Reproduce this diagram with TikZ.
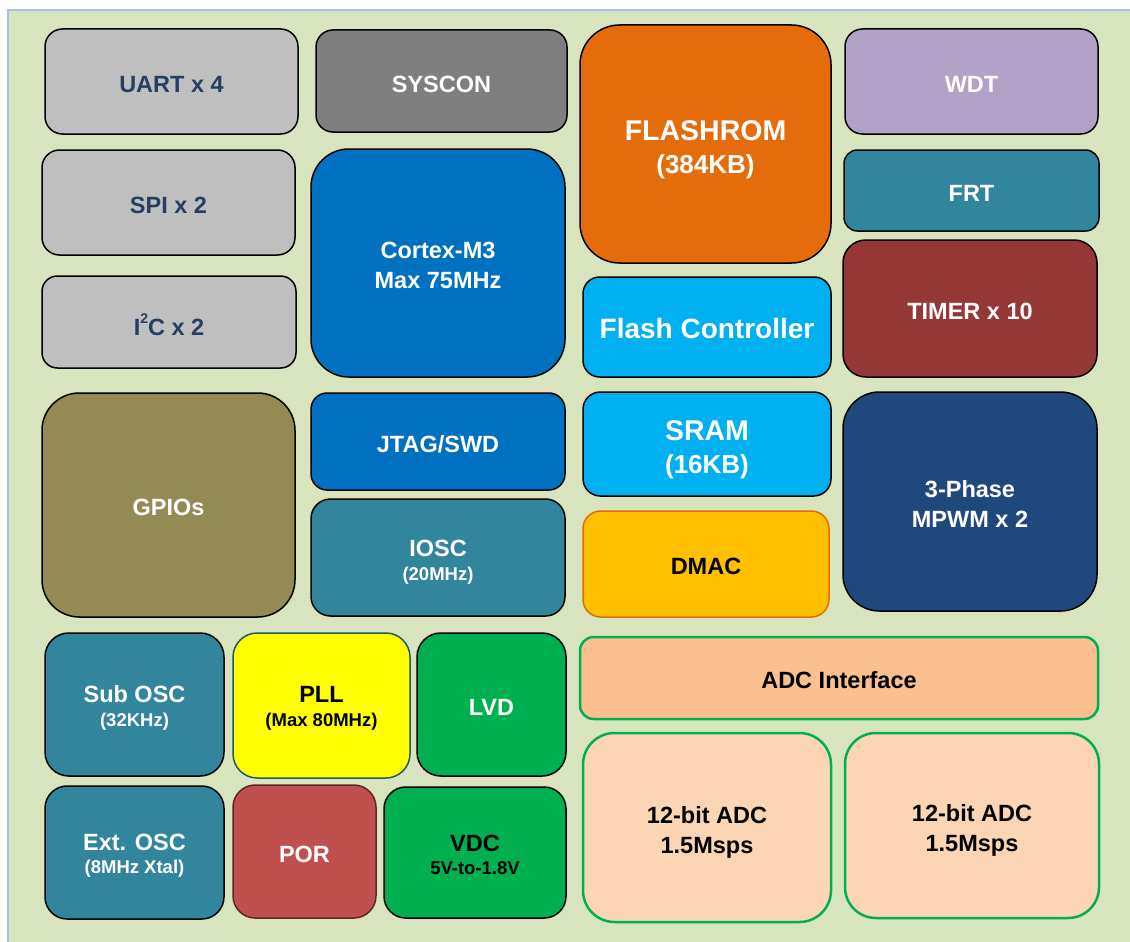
\documentclass[tikz,border=0pt]{standalone}
\usepackage{fontspec}
\setmainfont{Liberation Sans}
\definecolor{bgc}{HTML}{D7E4BD}
\definecolor{bgborder}{HTML}{A6C1E4}
\definecolor{grayb}{HTML}{BFBFBF}
\definecolor{sysc}{HTML}{7F7F7F}
\definecolor{flashc}{HTML}{E46C0A}
\definecolor{wdtc}{HTML}{B3A2C7}
\definecolor{tealc}{HTML}{31859C}
\definecolor{timerc}{HTML}{953735}
\definecolor{cpuc}{HTML}{0070C0}
\definecolor{cyanc}{HTML}{00B0F0}
\definecolor{gpioc}{HTML}{948A54}
\definecolor{dmacc}{HTML}{FFC000}
\definecolor{pwmc}{HTML}{1F497D}
\definecolor{pllc}{HTML}{FFFF00}
\definecolor{pllborder}{HTML}{215968}
\definecolor{greenc}{HTML}{00B050}
\definecolor{porc}{HTML}{C0504D}
\definecolor{porborder}{HTML}{632523}
\definecolor{adcic}{HTML}{FAC090}
\definecolor{adcc}{HTML}{FCD5B5}
\definecolor{navytext}{HTML}{243F60}
\newcommand\bigf{\fontsize{28.5}{33}\selectfont}
\newcommand\subf{\fontsize{26}{33}\selectfont}
\newcommand\smf{\fontsize{18.5}{24}\selectfont}
\tikzset{
  blk/.style={draw=black, line width=1.5pt, inner sep=0pt, outer sep=0pt},
  lbl/.style={align=center, inner sep=0pt, font=\bfseries\fontsize{23.5}{30}\selectfont, text=white},
  graybox/.style={blk, fill=grayb},
  tealbox/.style={blk, fill=tealc},
  adcbox/.style={blk, draw=greenc, line width=2.5pt},
}
% [text shift], name, x1, y1, x2, y2, box style, label style, text
\newcommand\mkblk[9][2.5]{%
  \pgfmathsetmacro\bw{#5-#3}%
  \pgfmathsetmacro\bh{#6-#4}%
  \pgfmathsetmacro\rr{0.1667*min(\bw,\bh)}%
  \node[#7, minimum width=\bw pt, minimum height=\bh pt, rounded corners=\rr pt]
    (#2) at ({(#3+#5)/2},{(#4+#6)/2}) {};%
  \node[lbl, #8] (#2-t) at ([yshift=-#1pt]#2.center) {#9};%
}
\begin{document}
\begin{tikzpicture}[x=1pt, y=-1pt]
\useasboundingbox (0,0) rectangle (1130,942);
\fill[bgc] (8,10) rectangle (1131,943);
\draw[bgborder, line width=1.5pt] (8,943) -- (8,10) -- (1131,10);

\mkblk[3]{uart}{45}{29}{298}{134}{graybox}{text=navytext}{UART x 4}
\mkblk[3]{syscon}{316}{30}{567}{132}{blk, fill=sysc}{}{SYSCON}
\mkblk[5.5]{flashrom}{580}{25}{831}{263}{blk, fill=flashc}{font=\bfseries\bigf}{FLASHROM\\{\subf (384KB)}}
\mkblk[3]{wdt}{845}{29}{1098}{134}{blk, fill=wdtc}{}{WDT}

\mkblk{spi}{42}{150}{295}{255}{graybox}{text=navytext}{SPI x 2}
\mkblk{cpu}{311}{149}{565}{377}{blk, fill=cpuc}{}{Cortex-M3\\Max 75MHz}
\mkblk{frt}{844}{150}{1099}{231}{tealbox}{}{FRT}

\mkblk{i2c}{42}{276}{296}{368}{graybox}{text=navytext}{I\raisebox{12pt}{\fontsize{14}{14}\selectfont 2}C x 2}
\mkblk[1.5]{flashctl}{583}{277}{831}{377}{blk, fill=cyanc}{font=\bfseries\fontsize{28}{33}\selectfont}{Flash Controller}
\mkblk{timer}{843}{240}{1097}{377}{blk, fill=timerc}{}{TIMER x 10}

\mkblk{gpio}{42}{393}{295}{617}{blk, fill=gpioc}{}{GPIOs}
\mkblk{jtag}{311}{393}{565}{490}{blk, fill=cpuc}{}{JTAG/SWD}
\mkblk[6]{sram}{583}{392}{831}{496}{blk, fill=cyanc}{font=\bfseries\bigf}{SRAM\\{\subf (16KB)}}
\mkblk{mpwm}{843}{392}{1097}{611}{blk, fill=pwmc}{}{3-Phase\\MPWM x 2}

\mkblk[4.5]{iosc}{311}{499}{565}{616}{tealbox}{}{IOSC\\[-6pt]{\smf (20MHz)}}
\mkblk{dmac}{583}{511}{829}{617}{blk, fill=dmacc, draw=flashc}{text=black}{DMAC}

\mkblk[3]{subosc}{45}{633}{224}{776}{tealbox}{}{Sub OSC\\[-6pt]{\smf (32KHz)}}
\mkblk[3]{pll}{233}{633}{410}{778}{blk, fill=pllc, draw=pllborder}{text=black}{PLL\\[-6pt]{\smf (Max 80MHz)}}
\mkblk{lvd}{417}{633}{566}{776}{blk, fill=greenc}{}{LVD}
\mkblk{adcif}{580}{637}{1098}{719}{adcbox, fill=adcic}{text=black}{ADC Interface}

\mkblk[3]{extosc}{45}{786}{224}{919}{tealbox}{}{Ext. OSC\\[-7pt]{\smf (8MHz Xtal)}}
\mkblk{por}{233}{785}{376}{918}{blk, fill=porc, draw=porborder}{}{POR}
\mkblk[2.5]{vdc}{384}{787}{566}{918}{blk, fill=greenc}{text=black}{VDC\\[-7pt]{\smf 5V-to-1.8V}}
\mkblk[5]{adca}{583}{733}{831}{922}{adcbox, fill=adcc}{text=black}{12-bit ADC\\1.5Msps}
\mkblk[5]{adcb}{845}{733}{1099}{918}{adcbox, fill=adcc}{text=black}{12-bit ADC\\1.5Msps}
\end{tikzpicture}
\end{document}
